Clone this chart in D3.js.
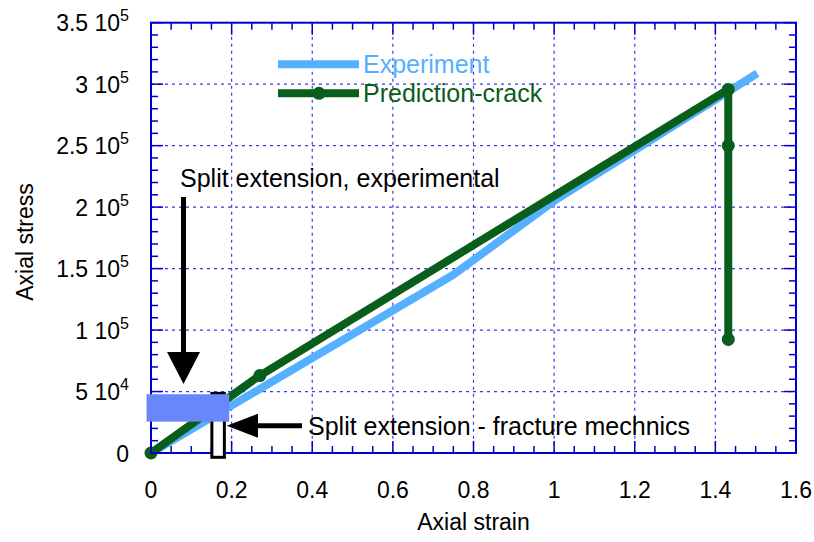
<!DOCTYPE html>
<html>
<head>
<meta charset="utf-8">
<script src="https://cdn.jsdelivr.net/npm/d3@7"></script>
<style>
  body { margin: 0; background: #fff; }
  text { font-family: "Liberation Sans", Arial, sans-serif; }
</style>
</head>
<body>
<script>
var width = 814, height = 542;

// data
var expStrain = [0, 0.75, 1.0, 1.504];
var expStress = [0, 145000, 205000, 308700];
var predStrain = [0, 0.27, 1.432, 1.432, 1.432];
var predStress = [0, 63000, 295700, 250000, 92400];

var xTicks = [0, 0.2, 0.4, 0.6, 0.8, 1, 1.2, 1.4, 1.6];
var xTickLabels = ["0", "0.2", "0.4", "0.6", "0.8", "1", "1.2", "1.4", "1.6"];
var yTicks = [0, 50000, 100000, 150000, 200000, 250000, 300000, 350000];
var yTickMant = ["0", "5", "1", "1.5", "2", "2.5", "3", "3.5"];
var yTickExp = ["", "4", "5", "5", "5", "5", "5", "5"];

var seriesNames = ["Experiment", "Prediction-crack"];
var seriesColors = ["#55b0ff", "#0a5e1c"];

// annotation boxes in data units
var splitExp = {x0: -0.011, x1: 0.194, y0: 25500, y1: 47800};
var splitFrac = {x0: 0.151, x1: 0.182, y0: -3500, y1: 48500};

var svg = d3.select("body").append("svg")
  .attr("width", width)
  .attr("height", height);

var x = d3.scaleLinear().domain([0, 1.6]).range([151, 796]);
var y = d3.scaleLinear().domain([0, 350000]).range([453, 22.7]);

var frameColor = "#0000cc";
var gridColor = "#3a3ae0";

// grid
var grid = svg.append("g");
grid.selectAll(".vg")
  .data(xTicks.slice(1, -1))
  .enter().append("line")
  .attr("x1", function(d) { return x(d); })
  .attr("x2", function(d) { return x(d); })
  .attr("y1", y(350000))
  .attr("y2", y(0))
  .attr("stroke", gridColor)
  .attr("stroke-width", 1.2)
  .attr("stroke-dasharray", "3,4");
grid.selectAll(".hg")
  .data(yTicks.slice(1, -1))
  .enter().append("line")
  .attr("x1", x(0))
  .attr("x2", x(1.6))
  .attr("y1", function(d) { return y(d); })
  .attr("y2", function(d) { return y(d); })
  .attr("stroke", gridColor)
  .attr("stroke-width", 1.2)
  .attr("stroke-dasharray", "3,4");

// series
var line = d3.line()
  .x(function(d) { return x(d[0]); })
  .y(function(d) { return y(d[1]); });

var expData = d3.zip(expStrain, expStress);
var predData = d3.zip(predStrain, predStress);

svg.append("path")
  .datum(expData)
  .attr("d", line)
  .attr("fill", "none")
  .attr("stroke", seriesColors[0])
  .attr("stroke-width", 8)
  .attr("stroke-linejoin", "round");

svg.append("path")
  .datum(predData)
  .attr("d", line)
  .attr("fill", "none")
  .attr("stroke", seriesColors[1])
  .attr("stroke-width", 8)
  .attr("stroke-linejoin", "round");

svg.append("g")
  .selectAll("circle")
  .data(predData)
  .enter().append("circle")
  .attr("cx", function(d) { return x(d[0]); })
  .attr("cy", function(d) { return y(d[1]); })
  .attr("r", 6.5)
  .attr("fill", seriesColors[1]);

// frame + ticks
svg.append("rect")
  .attr("x", x(0))
  .attr("y", y(350000))
  .attr("width", x(1.6) - x(0))
  .attr("height", y(0) - y(350000))
  .attr("fill", "none")
  .attr("stroke", frameColor)
  .attr("stroke-width", 2);

var ticks = svg.append("g").attr("stroke", frameColor).attr("stroke-width", 1.5);
var xMinor = d3.range(0, 1.6001, 0.05);
var yMinor = d3.range(0, 350001, 10000);
function isMajorX(v) { return Math.abs(v / 0.2 - Math.round(v / 0.2)) < 1e-6; }
function isMajorY(v) { return v % 50000 === 0; }

xMinor.forEach(function(v) {
  var len = isMajorX(v) ? 12 : 7;
  ticks.append("line").attr("x1", x(v)).attr("x2", x(v)).attr("y1", y(0)).attr("y2", y(0) - len);
  ticks.append("line").attr("x1", x(v)).attr("x2", x(v)).attr("y1", y(350000)).attr("y2", y(350000) + len);
});
yMinor.forEach(function(v) {
  var len = isMajorY(v) ? 12 : 7;
  ticks.append("line").attr("x1", x(0)).attr("x2", x(0) + len).attr("y1", y(v)).attr("y2", y(v));
  ticks.append("line").attr("x1", x(1.6)).attr("x2", x(1.6) - len).attr("y1", y(v)).attr("y2", y(v));
});

// tick labels
svg.append("g")
  .selectAll("text")
  .data(xTicks)
  .enter().append("text")
  .attr("x", function(d) { return x(d); })
  .attr("y", 498)
  .attr("text-anchor", "middle")
  .style("font-size", "23px")
  .text(function(d, i) { return xTickLabels[i]; });

var yl = svg.append("g")
  .selectAll("text")
  .data(yTicks)
  .enter().append("text")
  .attr("x", 129)
  .attr("y", function(d) { return y(d) + 8.5; })
  .attr("text-anchor", "end")
  .style("font-size", "23px");
yl.append("tspan").text(function(d, i) { return yTickExp[i] ? yTickMant[i] + " 10" : yTickMant[i]; });
yl.append("tspan")
  .attr("dy", -10)
  .style("font-size", "16px")
  .text(function(d, i) { return yTickExp[i]; });

// axis titles
svg.append("text")
  .attr("x", 473.5)
  .attr("y", 530)
  .attr("text-anchor", "middle")
  .style("font-size", "23px")
  .text("Axial strain");
svg.append("text")
  .attr("transform", "translate(33,242) rotate(-90)")
  .attr("text-anchor", "middle")
  .style("font-size", "23px")
  .text("Axial stress");

// legend
var legY = [64.3, 93.3];
var leg = svg.append("g");
seriesNames.forEach(function(name, i) {
  leg.append("line")
    .attr("x1", 278).attr("x2", 359)
    .attr("y1", legY[i]).attr("y2", legY[i])
    .attr("stroke", seriesColors[i])
    .attr("stroke-width", 8);
  if (i === 1) {
    leg.append("circle").attr("cx", 319).attr("cy", legY[i]).attr("r", 6.5).attr("fill", seriesColors[i]);
  }
  leg.append("text")
    .attr("x", 363)
    .attr("y", legY[i] + 9)
    .style("font-size", "25px")
    .attr("fill", seriesColors[i])
    .text(name);
});

// annotations
svg.append("rect")
  .attr("x", x(splitFrac.x0))
  .attr("y", y(splitFrac.y1))
  .attr("width", x(splitFrac.x1) - x(splitFrac.x0))
  .attr("height", y(splitFrac.y0) - y(splitFrac.y1))
  .attr("fill", "#fff")
  .attr("stroke", "#000")
  .attr("stroke-width", 3);

svg.append("rect")
  .attr("x", x(splitExp.x0))
  .attr("y", y(splitExp.y1))
  .attr("width", x(splitExp.x1) - x(splitExp.x0))
  .attr("height", y(splitExp.y0) - y(splitExp.y1))
  .attr("fill", "#6a86fb");

// vertical arrow
svg.append("line")
  .attr("x1", 183.5).attr("x2", 183.5)
  .attr("y1", 197).attr("y2", 356)
  .attr("stroke", "#000").attr("stroke-width", 5);
svg.append("path")
  .attr("d", "M167,352 L200,352 L183.5,384 Z")
  .attr("fill", "#000");

// horizontal arrow
svg.append("line")
  .attr("x1", 255).attr("x2", 302)
  .attr("y1", 425.7).attr("y2", 425.7)
  .attr("stroke", "#000").attr("stroke-width", 5);
svg.append("path")
  .attr("d", "M258,413.7 L258,437.7 L226.7,425.7 Z")
  .attr("fill", "#000");

svg.append("text")
  .attr("x", 180)
  .attr("y", 187)
  .style("font-size", "25px")
  .text("Split extension, experimental");
svg.append("text")
  .attr("x", 308)
  .attr("y", 435)
  .style("font-size", "25px")
  .text("Split extension - fracture mechnics");
</script>
</body>
</html>
